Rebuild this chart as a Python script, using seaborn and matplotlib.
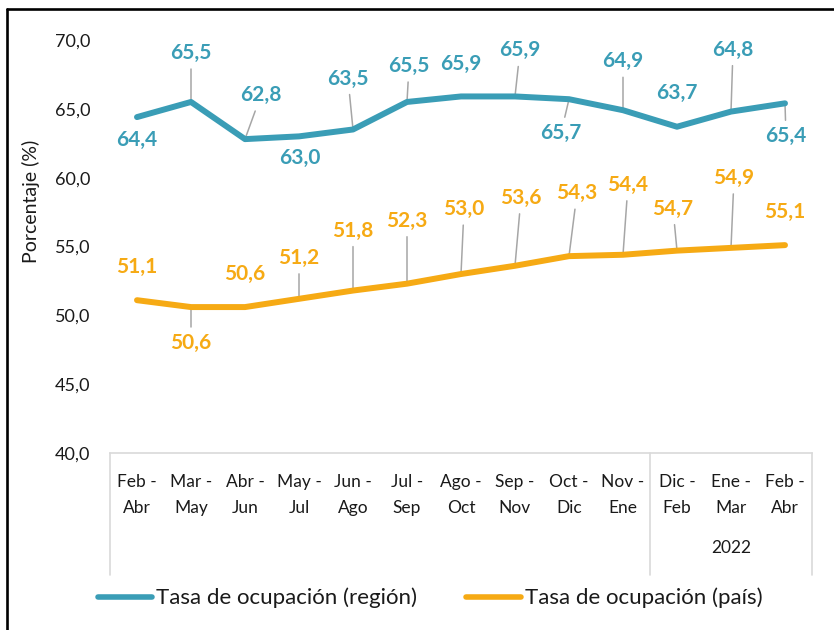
import pandas as pd
import numpy as np
import matplotlib.pyplot as plt
import seaborn as sns
from matplotlib.lines import Line2D

# Data
periodos = ["Feb -\nAbr", "Mar -\nMay", "Abr -\nJun", "May -\nJul", "Jun -\nAgo", "Jul -\nSep",
            "Ago -\nOct", "Sep -\nNov", "Oct -\nDic", "Nov -\nEne", "Dic -\nFeb", "Ene -\nMar", "Feb -\nAbr"]
grupo_2022 = "2022"
region = [64.4, 65.5, 62.8, 63.0, 63.5, 65.5, 65.9, 65.9, 65.7, 64.9, 63.7, 64.8, 65.4]
pais = [51.1, 50.6, 50.6, 51.2, 51.8, 52.3, 53.0, 53.6, 54.3, 54.4, 54.7, 54.9, 55.1]
serie_region = "Tasa de ocupación (región)"
serie_pais = "Tasa de ocupación (país)"

# label placement (offset pixels) and leader-line flags
off_region = [(0, -23), (0, 49), (16, 44), (1, -22), (-5, 51), (2, 36), (0, 32),
              (5, 46), (-8, -34), (0, 49), (0, 34), (2, 62), (1, -33)]
lead_region = [False, True, True, False, True, True, False, True, True, True, False, True, True]
off_pais = [(0, 33), (0, -36), (0, 33), (0, 41), (0, 60), (0, 63), (3, 65),
            (6, 68), (8, 63), (5, 70), (-4, 42), (3, 70), (0, 33)]
lead_pais = [False, True, False, True, True, True, True, True, True, True, True, True, False]

azul = "#3a9db6"
naranja = "#f6aa14"
gris = "#d9d9d9"
texto = "#1a1a1a"

df = pd.DataFrame({
    "idx": list(range(len(periodos))) * 2,
    "valor": region + pais,
    "serie": [serie_region] * len(region) + [serie_pais] * len(pais),
})

sns.set_theme(style="white")
plt.rcParams["font.family"] = ["Lato", "DejaVu Sans"]

fig = plt.figure(figsize=(8.34, 6.3), dpi=100)
W, H = 834, 630
x0, x1, y0, y1 = 110, 812, 40, 453
ax = fig.add_axes([x0 / W, 1 - y1 / H, (x1 - x0) / W, (y1 - y0) / H])

sns.lineplot(data=df, x="idx", y="valor", hue="serie", palette=[azul, naranja],
             linewidth=4.3, legend=False, ax=ax, solid_capstyle="round", zorder=3)

ax.set_xlim(-0.5, len(periodos) - 0.5)
ax.set_ylim(40, 70)
ax.set_yticks(np.arange(40, 71, 5))
ax.set_yticklabels([f"{v:.1f}".replace(".", ",") for v in np.arange(40, 71, 5)])
ax.set_xticks(range(len(periodos)))
ax.set_xticklabels(periodos, linespacing=1.75)
ax.tick_params(axis="y", length=0, pad=14, labelsize=13, labelcolor=texto)
ax.tick_params(axis="x", length=0, pad=15, labelsize=12.5, labelcolor=texto)
ax.set_xlabel("")
ax.set_ylabel("Porcentaje (%)", fontsize=14, color=texto)
ax.yaxis.set_label_coords(-0.1, 0.61)
for s in ["left", "right", "top"]:
    ax.spines[s].set_visible(False)
ax.spines["bottom"].set_color(gris)
ax.spines["bottom"].set_linewidth(1.2)

# category group lines and 2022 label
tr = ax.get_xaxis_transform()
ybot = -(575 - y1) / (y1 - y0)
for xv in [-0.5, 9.5, len(periodos) - 0.5]:
    ax.plot([xv, xv], [0, ybot], color=gris, lw=1.2, transform=tr, clip_on=False)
ax.text(11, -(548 - y1) / (y1 - y0), grupo_2022, transform=tr, ha="center", va="center",
        fontsize=12.5, color=texto)

# data labels
for vals, offs, leads, col in [(region, off_region, lead_region, azul),
                               (pais, off_pais, lead_pais, naranja)]:
    for i, v in enumerate(vals):
        props = dict(arrowstyle="-", color="#a6a6a6", lw=1.1, shrinkA=2, shrinkB=0) if leads[i] else None
        ax.annotate(f"{v:.1f}".replace(".", ","), xy=(i, v), xytext=offs[i],
                    textcoords="offset pixels", ha="center", va="center",
                    fontsize=15, fontweight="bold", color=col, arrowprops=props, zorder=2)

# legend
handles = [Line2D([], [], color=azul, lw=4, solid_capstyle="round"),
           Line2D([], [], color=naranja, lw=4, solid_capstyle="round")]
fig.legend(handles, [serie_region, serie_pais], loc="center", bbox_to_anchor=(430 / W, 1 - 598 / H),
           ncol=2, frameon=False, fontsize=16, handlelength=2.45, handletextpad=0.18,
           columnspacing=2.2, labelcolor=texto)

# outer frame
fig.add_artist(Line2D([7 / W, 7 / W], [0, 1 - 9 / H], color="black", lw=1.9, transform=fig.transFigure))
fig.add_artist(Line2D([7 / W, 1], [1 - 9 / H, 1 - 9 / H], color="black", lw=1.9, transform=fig.transFigure))

fig.savefig("out.png", dpi=100)
